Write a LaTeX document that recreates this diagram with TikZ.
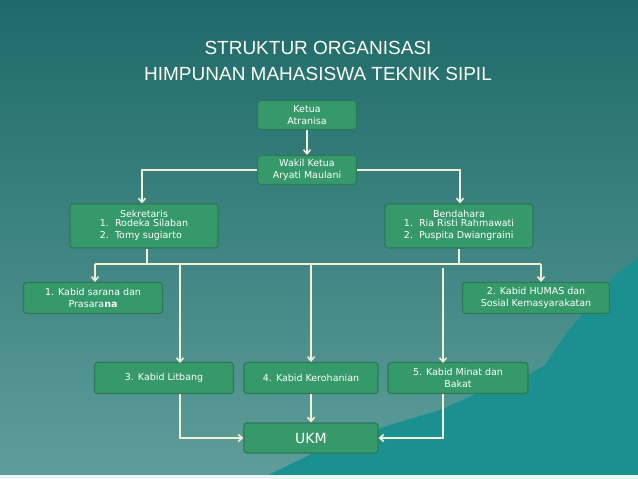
\documentclass[tikz,border=0pt]{standalone}
\usepackage{fontspec}
\setmainfont{DejaVu Sans}
\newfontfamily\titlefont{Liberation Sans}
\usetikzlibrary{arrows.meta}
\definecolor{bgtop}{HTML}{1E6A6A}
\definecolor{bgbot}{HTML}{5E9E9A}
\definecolor{boxfill}{HTML}{36996A}
\definecolor{boxline}{HTML}{2A7A55}
\definecolor{linec}{HTML}{F2F0D2}
\definecolor{mount}{HTML}{1A9090}
\tikzset{
 box/.style={draw=boxline,line width=1.2pt,fill=boxfill,rounded corners=3pt,text=white,font=\fontsize{9.5}{11.5}\selectfont,align=center,inner sep=0pt},
 conn/.style={draw=linec,line width=1.6pt,-{Straight Barb[length=4pt,width=7pt]}},
 plain/.style={draw=linec,line width=1.6pt},
 ttl/.style={font=\titlefont\fontsize{19}{26}\selectfont,align=center},
}
\begin{document}
\begin{tikzpicture}[x=1pt,y=-1pt]
\shade[top color=bgtop,bottom color=bgbot] (0,0) rectangle (638,479);
\useasboundingbox (0,0) rectangle (638,479);
\fill[mount] (260,479) -- (330,445) -- (390,425) -- (440,410) -- (480,392) -- (520,380) -- (545,365) -- (565,335) -- (590,305) -- (615,275) -- (638,258) -- (638,479) -- cycle;
\fill[white!92!teal] (0,475) rectangle (638,479);
\node[ttl,text=white!95!yellow] (title) at (318,61) {STRUKTUR ORGANISASI\\HIMPUNAN MAHASISWA TEKNIK SIPIL};
\node[box,minimum width=99pt,minimum height=29pt] (ketua) at (307,115) {Ketua\\Atranisa};
\node[box,minimum width=99pt,minimum height=29pt] (wakil) at (307,170) {Wakil Ketua\\Aryati Maulani};
\node[box,minimum width=148pt,minimum height=44pt] (sek) at (144,226) {Sekretaris\\\begin{tabular}{@{}l@{}}1.\ \ Rodeka Silaban\\2.\ \ Tomy sugiarto\end{tabular}};
\node[box,minimum width=148pt,minimum height=44pt] (bend) at (459,226) {Bendahara\\\begin{tabular}{@{}l@{}}1.\ \ Ria Risti Rahmawati\\2.\ \ Puspita Dwiangraini\end{tabular}};
\node[box,minimum width=139pt,minimum height=31pt] (k1) at (93,298) {1. Kabid sarana dan\\Prasara\textbf{na}};
\node[box,minimum width=147pt,minimum height=31pt] (k2) at (536,298) {2. Kabid HUMAS dan\\Sosial Kemasyarakatan};
\node[box,minimum width=139pt,minimum height=31pt] (k3) at (164,378) {3. Kabid Litbang};
\node[box,minimum width=134pt,minimum height=31pt] (k4) at (311,378) {4. Kabid Kerohanian};
\node[box,minimum width=140pt,minimum height=31pt] (k5) at (458,378) {5. Kabid Minat dan\\Bakat};
\node[box,minimum width=134pt,minimum height=30pt,font=\fontsize{14}{16}\selectfont] (ukm) at (311,438) {UKM};
\coordinate (bl) at (95,264);
\coordinate (br) at (541,264);
\draw[conn] (ketua.south) -- (wakil.north);
\draw[conn] (wakil.west) -| ([xshift=-2pt]sek.north);
\draw[conn] (wakil.east) -| ([xshift=1pt]bend.north);
\draw[plain] ([xshift=3pt]sek.south) -- ++(0,16);
\draw[plain] (bend.south) -- ++(0,16);
\draw[plain] (bl) -- (br);
\draw[conn] (bl) -- (bl |- k1.north);
\draw[conn] (br) -- (br |- k2.north);
\draw[conn] (180,264) -- (180,363);
\draw[conn] (k4.north |- bl) -- (k4.north);
\draw[conn] (443,268) -- (443,363);
\draw[conn] (180,394) |- (ukm.west);
\draw[conn] (k4.south) -- (ukm.north);
\draw[conn] (443,394) |- (ukm.east);
\end{tikzpicture}
\end{document}
